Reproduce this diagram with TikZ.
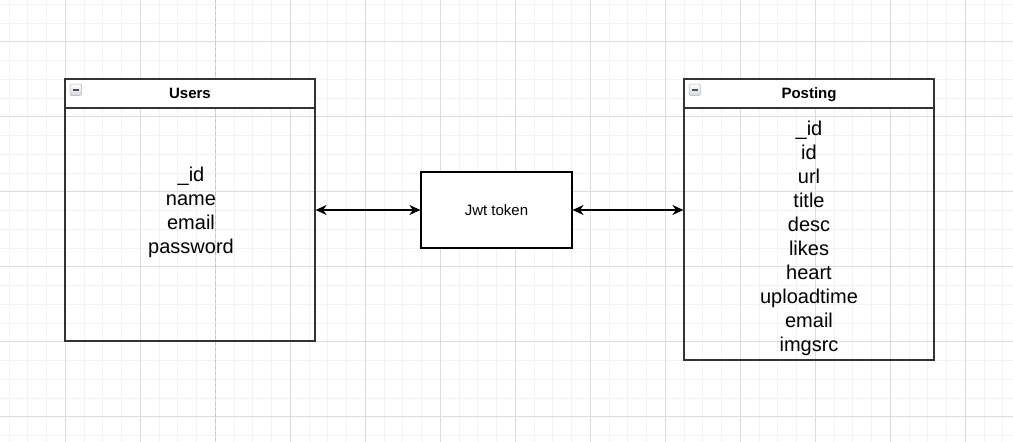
\documentclass[tikz,border=0pt]{standalone}
\usepackage{fontspec}
\setmainfont{Liberation Sans}
\usetikzlibrary{positioning}
\usetikzlibrary{arrows.meta}
\definecolor{gridmajor}{HTML}{DCDCDC}
\definecolor{gridminor}{HTML}{F2F2F2}
\definecolor{boxline}{HTML}{333333}
\definecolor{pageline}{HTML}{C4C4C4}
\definecolor{iconfill}{HTML}{D3D8E0}
\tikzstyle{tblbody} = [draw=boxline, line width=1.2pt, minimum width=250pt, inner sep=0pt]
\tikzstyle{tblhead} = [draw=boxline, fill=white, line width=1.2pt, minimum width=250pt, minimum height=29pt, inner sep=0pt, text height=10.8pt, text depth=0pt, font=\fontsize{15pt}{18pt}\selectfont\bfseries]
\tikzstyle{minbox} = [draw=gray!60, top color=white, bottom color=iconfill, minimum size=11.5pt, inner sep=0pt, rounded corners=1.5pt, path picture={\draw[line width=1.6pt, black!70] ([xshift=2.5pt]path picture bounding box.west) -- ([xshift=-2.5pt]path picture bounding box.east);}]
\tikzstyle{fields} = [align=center, inner sep=0pt, font=\fontsize{20pt}{24pt}\selectfont]
\tikzstyle{jwtbox} = [draw=black, fill=white, line width=1.2pt, minimum width=151pt, minimum height=76pt, font=\fontsize{15pt}{18pt}\selectfont]
\tikzstyle{link} = [line width=1.3pt, {Stealth[length=11pt,width=10pt,inset=3.5pt]}-{Stealth[length=11pt,width=10pt,inset=3.5pt]}]

\begin{document}
\begin{tikzpicture}[x=1pt,y=-1pt]

\useasboundingbox (0,0) rectangle (1013,442);
\fill[white] (0,0) rectangle (1013,442);

% grid
\foreach \i in {0,...,53} \draw[gridminor,line width=0.9pt] (9.05+18.75*\i,0) -- ++(0,442);
\foreach \i in {0,...,23} \draw[gridminor,line width=0.9pt] (0,4.2+18.75*\i) -- ++(1013,0);
\foreach \i in {0,...,12} \draw[gridmajor,line width=1pt] (65.3+75*\i,0) -- ++(0,442);
\foreach \i in {0,...,5} \draw[gridmajor,line width=1pt] (0,41.7+75*\i) -- ++(1013,0);
\draw[pageline,line width=1pt,dash pattern=on 3pt off 3pt] (215.3,0) -- (215.3,442);

% Users
\node[tblbody, minimum height=262pt] (users) at (190,210) {};
\node[tblhead, below=0pt of users.north] (usershead) {Users};
\node[minbox, below right=5.5pt and 5.5pt of usershead.north west] (usersmin) {};
\node[fields] (usersfields) at (191,212.5) {\_id\\name\\email\\password};

% Posting
\node[tblbody, minimum height=281pt] (posting) at (809,219.5) {};
\node[tblhead, below=0pt of posting.north] (postinghead) {Posting};
\node[minbox, below right=5.5pt and 5.5pt of postinghead.north west] (postingmin) {};
\node[fields] (postingfields) at (809,238) {\_id\\id\\url\\title\\desc\\likes\\heart\\uploadtime\\email\\imgsrc};

% token
\node[jwtbox] (jwt) at (496.5,210) {Jwt token};

\draw[link] (jwt.west -| users.east) -- (jwt.west);
\draw[link] (jwt.east) -- (jwt.east -| posting.west);

\end{tikzpicture}
\end{document}
